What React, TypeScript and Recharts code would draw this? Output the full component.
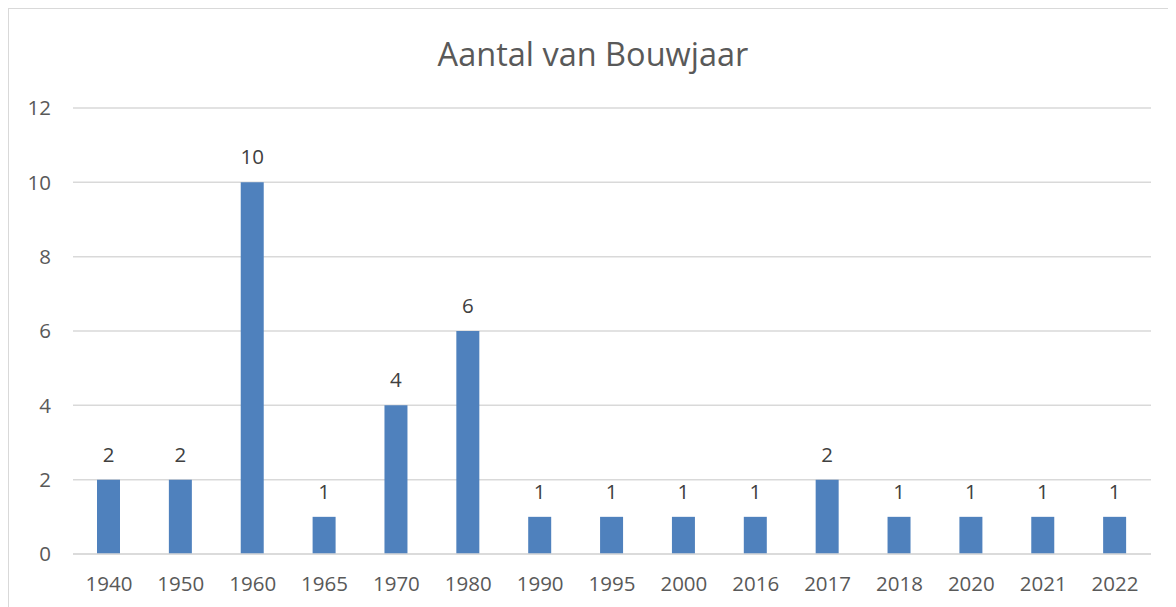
import { Bar, BarChart, CartesianGrid, LabelList, XAxis, YAxis } from 'recharts';

const years = ['1940', '1950', '1960', '1965', '1970', '1980', '1990', '1995', '2000', '2016', '2017', '2018', '2020', '2021', '2022'];
const counts = [2, 2, 10, 1, 4, 6, 1, 1, 1, 1, 2, 1, 1, 1, 1];
const yTicks = [0, 2, 4, 6, 8, 10, 12];

const data = years.map((year, i) => ({ year, count: counts[i] }));

const font = '"Open Sans", sans-serif';
const textColor = '#595959';

export default function App() {
  return <div style={{ position: 'relative', width: 1168, height: 599, borderTop: '1px solid #D9D9D9', borderLeft: '1px solid #D9D9D9', background: '#fff', fontFamily: font }}>
    <style>{'html,body{overflow:hidden}'}</style>
    <div style={{ position: 'absolute', left: 0, width: 1168, top: 22, textAlign: 'center', fontSize: 32.5, color: textColor, lineHeight: '46px' }}>
      Aantal van Bouwjaar
    </div>
    <BarChart width={1167} height={598} data={data} margin={{ top: 99, right: 25, left: 0, bottom: 23 }} barSize={23}>
      <CartesianGrid vertical={false} stroke="#D9D9D9" strokeWidth={1.5} />
      <XAxis dataKey="year" axisLine={{ stroke: '#D9D9D9', strokeWidth: 1.5 }} tickLine={false} tickMargin={16} tick={{ fontSize: 20.5, fill: textColor, fontFamily: font }} interval={0} />
      <YAxis width={64} domain={[0, 12]} ticks={yTicks} axisLine={false} tickLine={false} tickMargin={16} tick={{ fontSize: 20.5, fill: textColor, fontFamily: font }} />
      <Bar dataKey="count" fill="#4F81BD" isAnimationActive={false}>
        <LabelList dataKey="count" position="top" offset={18} style={{ fontSize: 20.5, fill: '#404040', fontFamily: font }} />
      </Bar>
    </BarChart>
  </div>;
}
